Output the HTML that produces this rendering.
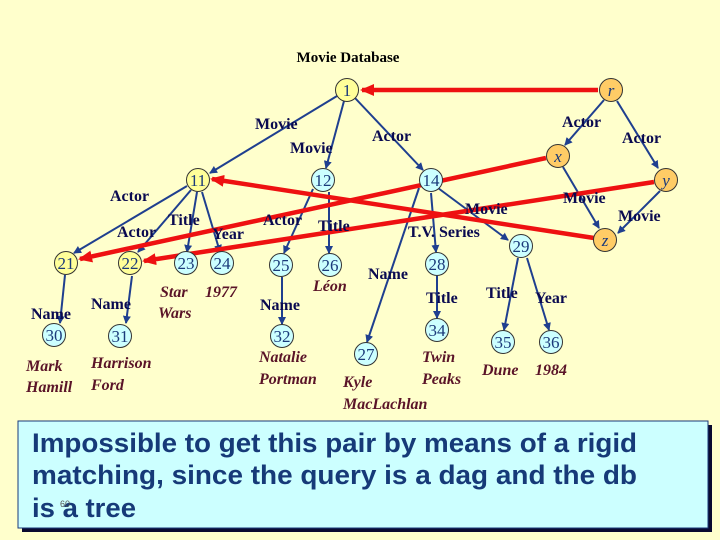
<!DOCTYPE html>
<html><head><meta charset="utf-8"><style>
html,body{margin:0;padding:0;background:#ffffcc;}
svg{display:block}
.l{font-family:"Liberation Serif",serif;font-weight:bold;font-size:16px;fill:#0a0a50}
.v{font-family:"Liberation Serif",serif;font-weight:bold;font-style:italic;font-size:16px;fill:#5a1428}
.n{font-family:"Liberation Serif",serif;font-size:17px;fill:#1a3a7a;text-anchor:middle}
.t{font-family:"Liberation Sans",sans-serif;font-weight:bold;font-size:27px;fill:#163a78}
</style></head><body>
<svg width="720" height="540" viewBox="0 0 720 540">
<defs>
<marker id="a" markerWidth="8" markerHeight="8" refX="7" refY="4" orient="auto" markerUnits="userSpaceOnUse"><path d="M0,0 L8,4 L0,8 z" fill="#1f3f8f"/></marker>
<marker id="r" markerWidth="14" markerHeight="12" refX="12" refY="6" orient="auto" markerUnits="userSpaceOnUse"><path d="M0,0 L14,6 L0,12 z" fill="#ee1111"/></marker>
</defs>
<rect width="720" height="540" fill="#ffffcc"/>
<text x="348" y="62" text-anchor="middle" style="font-family:'Liberation Serif',serif;font-weight:bold;font-size:15px;fill:#000">Movie Database</text>
<g stroke="#1f3f8f" stroke-width="2" marker-end="url(#a)">
<line x1="337" y1="96" x2="210" y2="173"/>
<line x1="344" y1="101" x2="326" y2="168"/>
<line x1="355" y1="98" x2="423" y2="170"/>
<line x1="187" y1="186" x2="74" y2="253"/>
<line x1="191" y1="190" x2="138" y2="252"/>
<line x1="197" y1="192" x2="187" y2="252"/>
<line x1="202" y1="192" x2="220" y2="252"/>
<line x1="313" y1="189" x2="284" y2="253"/>
<line x1="329" y1="192" x2="329" y2="253"/>
<line x1="65" y1="275" x2="60" y2="323"/>
<line x1="132" y1="276" x2="126" y2="323"/>
<line x1="282" y1="277" x2="282" y2="324"/>
<line x1="419" y1="188" x2="367" y2="342"/>
<line x1="431" y1="193" x2="436" y2="252"/>
<line x1="438" y1="188" x2="508" y2="240"/>
<line x1="437" y1="276" x2="437" y2="318"/>
<line x1="518" y1="258" x2="504" y2="330"/>
<line x1="527" y1="258" x2="549" y2="330"/>
<line x1="604" y1="100" x2="565" y2="145"/>
<line x1="617" y1="101" x2="658" y2="168"/>
<line x1="563" y1="167" x2="599" y2="228"/>
<line x1="660" y1="191" x2="618" y2="233"/>
</g>
<g stroke="#ee1111" stroke-width="4.5" marker-end="url(#r)">
<line x1="598" y1="90" x2="362" y2="90"/>
<line x1="546" y1="158" x2="80" y2="259"/>
<line x1="654" y1="182" x2="144" y2="261"/>
<line x1="594" y1="238" x2="212" y2="179"/>
</g>
<g stroke="#333" stroke-width="1">
<circle cx="347" cy="90" r="11.5" fill="#ffff99"/>
<circle cx="198" cy="180" r="11.5" fill="#ffff99"/>
<circle cx="66" cy="263" r="11.5" fill="#ffff99"/>
<circle cx="130" cy="263" r="11.5" fill="#ffff99"/>
<g fill="#ccffff">
<circle cx="323" cy="180" r="11.5"/><circle cx="431" cy="180" r="11.5"/>
<circle cx="186" cy="263" r="11.5"/><circle cx="222" cy="263" r="11.5"/>
<circle cx="281" cy="265" r="11.5"/><circle cx="330" cy="265" r="11.5"/>
<circle cx="437" cy="264" r="11.5"/><circle cx="521" cy="246" r="11.5"/>
<circle cx="54" cy="335" r="11.5"/><circle cx="120" cy="336" r="11.5"/>
<circle cx="282" cy="336" r="11.5"/><circle cx="366" cy="354" r="11.5"/>
<circle cx="437" cy="330" r="11.5"/><circle cx="503" cy="342" r="11.5"/>
<circle cx="551" cy="342" r="11.5"/>
</g>
<g fill="#ffcc66">
<circle cx="611" cy="90" r="11.5"/><circle cx="558" cy="156" r="11.5"/>
<circle cx="666" cy="180" r="11.5"/><circle cx="605" cy="240" r="11.5"/>
</g>
</g>
<g class="n">
<text x="347" y="96">1</text><text x="198" y="186">11</text><text x="66" y="269">21</text><text x="130" y="269">22</text>
<text x="323" y="186">12</text><text x="431" y="186">14</text><text x="186" y="269">23</text><text x="222" y="269">24</text>
<text x="281" y="271">25</text><text x="330" y="271">26</text><text x="437" y="270">28</text><text x="521" y="252">29</text>
<text x="54" y="341">30</text><text x="120" y="342">31</text><text x="282" y="342">32</text><text x="366" y="360">27</text>
<text x="437" y="336">34</text><text x="503" y="348">35</text><text x="551" y="348">36</text>
<g font-style="italic"><text x="611" y="96">r</text><text x="558" y="162">x</text><text x="666" y="186">y</text><text x="605" y="246">z</text></g>
</g>
<g class="l">
<text x="255" y="129">Movie</text><text x="290" y="153">Movie</text><text x="372" y="141">Actor</text>
<text x="562" y="127">Actor</text><text x="622" y="143">Actor</text><text x="110" y="201">Actor</text>
<text x="117" y="237">Actor</text><text x="168" y="225">Title</text><text x="212" y="239">Year</text>
<text x="263" y="225">Actor</text><text x="318" y="231">Title</text><text x="465" y="214">Movie</text>
<text x="408" y="237">T.V. Series</text><text x="563" y="203">Movie</text><text x="618" y="221">Movie</text>
<text x="31" y="319">Name</text><text x="91" y="309">Name</text><text x="260" y="310">Name</text>
<text x="368" y="279">Name</text><text x="426" y="303">Title</text><text x="486" y="298">Title</text><text x="535" y="303">Year</text>
</g>
<g class="v">
<text x="160" y="297">Star</text><text x="158" y="318">Wars</text><text x="205" y="297">1977</text>
<text x="313" y="291">Léon</text><text x="26" y="371">Mark</text><text x="26" y="392">Hamill</text>
<text x="91" y="368">Harrison</text><text x="91" y="390">Ford</text><text x="259" y="362">Natalie</text>
<text x="259" y="384">Portman</text><text x="343" y="387">Kyle</text><text x="343" y="409">MacLachlan</text>
<text x="422" y="362">Twin</text><text x="422" y="384">Peaks</text><text x="482" y="375">Dune</text><text x="535" y="375">1984</text>
</g>
<rect x="22" y="425" width="690" height="107" fill="#0a0a30"/>
<rect x="18" y="421" width="690" height="107" fill="#ccffff" stroke="#1a3a7a" stroke-width="1"/>
<text class="t" x="32" y="452" textLength="605" lengthAdjust="spacingAndGlyphs">Impossible to get this pair by means of a rigid</text>
<text class="t" x="32" y="484" textLength="605" lengthAdjust="spacingAndGlyphs">matching, since the query is a dag and the db</text>
<text class="t" x="32" y="517" textLength="104" lengthAdjust="spacingAndGlyphs">is a tree</text>
<text x="60" y="507" style="font-family:'Liberation Sans',sans-serif;font-size:9px;fill:#555">60</text>
</svg>
</body></html>
